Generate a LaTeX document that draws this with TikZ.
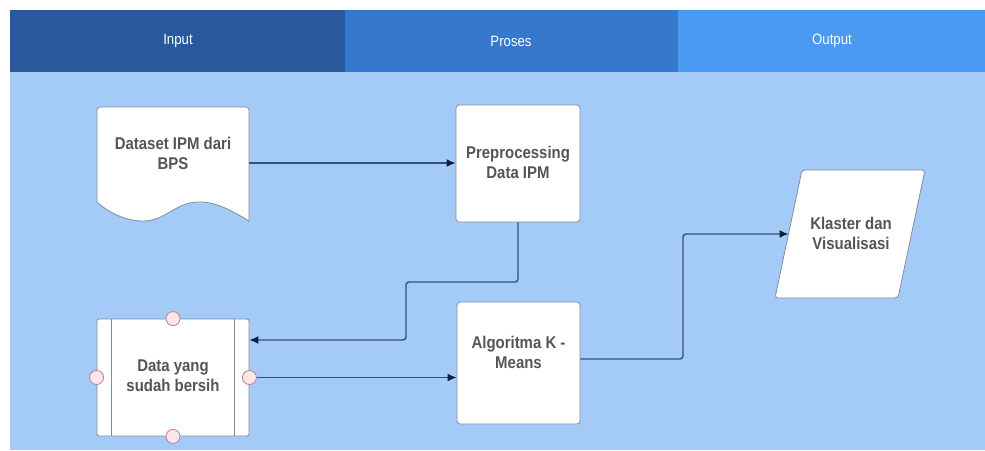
\documentclass[tikz,border=0pt]{standalone}
\usepackage{fontspec}
\setmainfont{Liberation Sans}
\newfontfamily\lblfont[FakeStretch=0.88]{Liberation Sans}
\usetikzlibrary{arrows.meta}
\definecolor{inp}{HTML}{28599A}
\definecolor{pro}{HTML}{3578CC}
\definecolor{outp}{HTML}{4A99F2}
\definecolor{bgc}{HTML}{A4CBF8}
\definecolor{txt}{HTML}{555555}
\definecolor{edgec}{HTML}{7F8C9C}
\definecolor{connc}{HTML}{34507A}
\definecolor{tipc}{HTML}{10203A}
\definecolor{hfill}{HTML}{FCE6EA}
\definecolor{hdraw}{HTML}{C97C84}
\begin{document}
\begin{tikzpicture}[x=1pt,y=-1pt,
 box/.style={draw=edgec, fill=white, line width=0.8pt, rounded corners=3pt, minimum width=124pt, minimum height=117pt, inner sep=0pt},
 shapeline/.style={draw=edgec, fill=white, line width=0.8pt},
 lbl/.style={font=\lblfont\fontsize{17}{20}\selectfont\bfseries, text=txt, align=center},
 hdr/.style={font=\lblfont\fontsize{15}{18}\selectfont, text=white},
 conn/.style={draw=connc, line width=1.4pt, rounded corners=3pt, -{Latex[length=9pt,width=8pt,color=tipc]}},
 handle/.style={circle, draw=hdraw, fill=hfill, line width=0.8pt, minimum size=14pt, inner sep=0pt}]
\useasboundingbox (0,0) rectangle (985,450);
% background and lanes
\fill[bgc] (10,72) rectangle (985,450);
\fill[inp] (10,10) rectangle (345,72);
\fill[pro] (345,10) rectangle (678,72);
\fill[outp] (678,10) rectangle (985,72);
\node[hdr] (hIn) at (178,41) {Input};
\node[hdr] (hPro) at (511,41) {Proses};
\node[hdr] (hOut) at (832,41) {Output};
% document shape
\path[shapeline] (97,202) [rounded corners=3pt] -- (97,107) -- (249,107) [sharp corners] -- (249,221)
  .. controls (228,208) and (212,201) .. (197,202)
  .. controls (175,203) and (165,221) .. (143,221)
  .. controls (125,221) and (108,212) .. (97,202) -- cycle;
\coordinate (dsR) at (249,163);
\node[lbl] (dsT) at (173,153) {Dataset IPM dari\\BPS};
% preprocessing
\node[box] (pre) at (518,163.5) {};
\node[lbl] (preT) at (518,162) {Preprocessing\\Data IPM};
% clean data (predefined process)
\node[box, minimum width=152pt, rounded corners=2pt] (clean) at (173,377.5) {};
\draw[edgec, line width=0.8pt] ([xshift=15pt]clean.north west) -- ([xshift=15pt]clean.south west);
\draw[edgec, line width=0.8pt] ([xshift=-15pt]clean.north east) -- ([xshift=-15pt]clean.south east);
\node[lbl] (cleanT) at (173,376) {Data yang\\sudah bersih};
\node[handle] (hN) at (clean.north) {};
\node[handle] (hS) at (clean.south) {};
\node[handle] (hW) at (clean.west) {};
\node[handle] (hE) at (clean.east) {};
% algorithm
\node[box, minimum width=123pt, minimum height=122pt] (algo) at (518.5,363) {};
\node[lbl] (algoT) at (518.5,352) {Algoritma K -\\Means};
% output parallelogram
\path[shapeline, rounded corners=3pt] (802,170) -- (925,170) -- (898,298) -- (775,298) -- cycle;
\coordinate (parL) at (788.5,234);
\node[lbl] (parT) at (851,233) {Klaster dan\\Visualisasi};
% connectors
\draw[conn] (dsR) -- (pre.west |- dsR);
\coordinate (b1) at (406,282);
\coordinate (b2) at (406,340);
\draw[conn] (pre.south) -- (pre.south |- b1) -- (b1) -- (b2) -- (b2 -| clean.east);
\draw[conn] (hE.east) -- (hE.east -| algo.west);
\coordinate (aOut) at ([yshift=4pt]algo.east);
\coordinate (b3) at (683,359);
\draw[conn] (aOut) -- (b3) -- (b3 |- parL) -- (parL);
\end{tikzpicture}
\end{document}
